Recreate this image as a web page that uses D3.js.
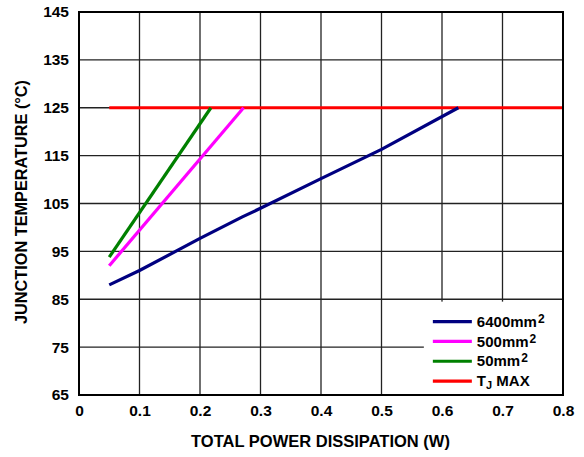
<!DOCTYPE html>
<html>
<head>
<meta charset="utf-8">
<script src="https://cdn.jsdelivr.net/npm/d3@7"></script>
<style>
  body { margin: 0; background: #fff; }
  svg { font-family: "Liberation Sans", Arial, sans-serif; font-weight: bold; }
</style>
</head>
<body>
<svg width="584" height="457"></svg>
<script>
// data
const xTicks = [0, 0.1, 0.2, 0.3, 0.4, 0.5, 0.6, 0.7, 0.8]
const yTicks = [65, 75, 85, 95, 105, 115, 125, 135, 145]
const power6400 = [0.05, 0.1, 0.2, 0.27, 0.3, 0.4, 0.5, 0.627]
const temp6400 = [88, 91, 97.7, 102.2, 104, 110.2, 116.3, 125]
const power500 = [0.05, 0.272]
const temp500 = [92, 125]
const power50 = [0.05, 0.218]
const temp50 = [93.8, 125]
const powerTj = [0.05, 0.8]
const tempTj = [125, 125]

const series = [
  { name: '6400mm', sup: '2', color: '#000080', xs: power6400, ys: temp6400 },
  { name: '500mm', sup: '2', color: '#ff00ff', xs: power500, ys: temp500 },
  { name: '50mm', sup: '2', color: '#008000', xs: power50, ys: temp50 },
  { name: 'TJ', color: '#ff0000', xs: powerTj, ys: tempTj }
]

const svg = d3.select('svg')
const margin = {top: 12, right: 21, bottom: 62, left: 79}
const width = 584 - margin.left - margin.right
const height = 457 - margin.top - margin.bottom

const g = svg.append('g')
  .attr('transform', 'translate(' + margin.left + ',' + margin.top + ')')

const x = d3.scaleLinear().domain([0, 0.8]).range([0, width])
const y = d3.scaleLinear().domain([65, 145]).range([height, 0])

// grid
g.append('g')
  .selectAll('line')
  .data(xTicks.slice(1, -1))
  .join('line')
  .attr('x1', d => x(d)).attr('x2', d => x(d))
  .attr('y1', 0).attr('y2', height)
  .attr('stroke', '#222').attr('stroke-width', 1.3)
g.append('g')
  .selectAll('line')
  .data(yTicks.slice(1, -1))
  .join('line')
  .attr('y1', d => y(d)).attr('y2', d => y(d))
  .attr('x1', 0).attr('x2', width)
  .attr('stroke', '#222').attr('stroke-width', 1.3)

// axes labels
const xAxis = g.append('g')
  .attr('transform', 'translate(0,' + height + ')')
  .call(d3.axisBottom(x).tickValues(xTicks).tickSize(0).tickPadding(10).tickFormat(d3.format('')))
const yAxis = g.append('g')
  .call(d3.axisLeft(y).tickValues(yTicks).tickSize(0).tickPadding(10))
;[xAxis, yAxis].forEach(a => {
  a.select('.domain').remove()
  a.selectAll('text')
    .attr('font-family', '"Liberation Sans", Arial, sans-serif')
    .attr('font-weight', 'bold')
    .attr('font-size', 15.5)
    .attr('fill', '#000')
})

// legend box (hides grid beneath it)
const legX = x(0.57), legY = y(84.5)
g.append('rect')
  .attr('x', legX).attr('y', legY)
  .attr('width', width - legX).attr('height', height - legY)
  .attr('fill', '#fff')

// series lines
const line = d3.line().x(d => x(d[0])).y(d => y(d[1]))
g.append('g')
  .selectAll('path')
  .data(series.slice().reverse())
  .join('path')
  .attr('d', s => line(s.xs.map((v, i) => [v, s.ys[i]])))
  .attr('fill', 'none')
  .attr('stroke', s => s.color)
  .attr('stroke-width', 3.2)

// frame
g.append('rect')
  .attr('width', width).attr('height', height)
  .attr('fill', 'none').attr('stroke', '#000').attr('stroke-width', 2)

// legend entries
const leg = g.append('g')
  .selectAll('g')
  .data(series)
  .join('g')
  .attr('transform', (d, i) => 'translate(' + (legX + 9) + ',' + (legY + 20 + i * 19.8) + ')')
leg.append('line')
  .attr('x1', 0).attr('x2', 39)
  .attr('stroke', d => d.color).attr('stroke-width', 3.2)
leg.each(function (d) {
  const t = d3.select(this).append('text')
    .attr('x', 44).attr('dy', '0.35em')
    .attr('font-size', 15).attr('fill', '#000')
  if (d.sup) {
    t.append('tspan').text(d.name)
    t.append('tspan').attr('dy', -4).attr('dx', 1).attr('font-size', 12).text(d.sup)
  } else {
    t.append('tspan').text('T')
    t.append('tspan').attr('dy', 3).attr('font-size', 11).text('J')
    t.append('tspan').attr('dy', -3).text(' MAX')
  }
})

// axis titles
svg.append('text')
  .attr('x', 320.5).attr('y', 447)
  .attr('text-anchor', 'middle').attr('font-size', 16.5)
  .text('TOTAL POWER DISSIPATION (W)')
svg.append('text')
  .attr('transform', 'translate(27,' + 202 + ') rotate(-90)')
  .attr('text-anchor', 'middle').attr('font-size', 16.3)
  .text('JUNCTION TEMPERATURE (°C)')
</script>
</body>
</html>
